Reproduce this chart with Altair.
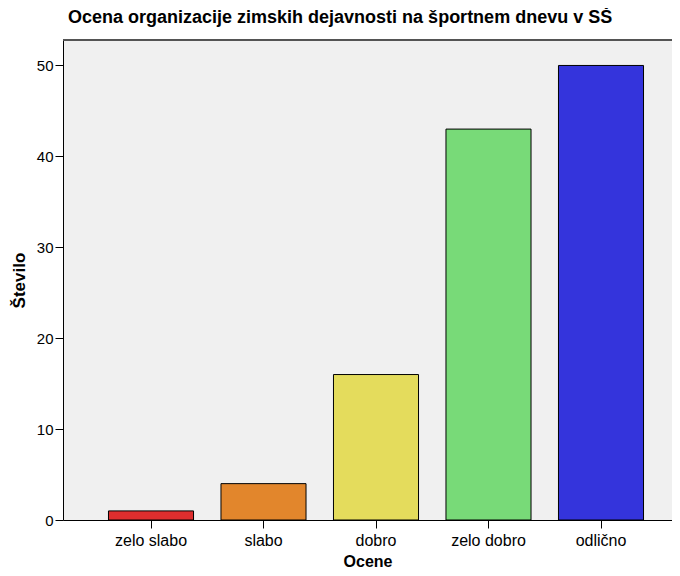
import altair as alt
import pandas as pd

categories = ["zelo slabo", "slabo", "dobro", "zelo dobro", "odlično"]
counts = [1, 4, 16, 43, 50]
colors = ["#de2e2e", "#e2862c", "#e4dc5c", "#78da78", "#3434dc"]

df = pd.DataFrame({"Ocene": categories, "Število": counts})

FONT = "Liberation Sans"
W, H = 609, 480

bars = alt.Chart(df).mark_bar(stroke="black", strokeWidth=1, opacity=1).encode(
    x=alt.X(
        "Ocene:N",
        sort=categories,
        scale=alt.Scale(paddingInner=0.244, paddingOuter=0.3287, align=0.615),
        axis=alt.Axis(
            title="Ocene",
            labelAngle=0,
            labelFontSize=16,
            labelFont=FONT,
            labelColor="black",
            labelPadding=4,
            tickSize=8,
            tickColor="black",
            domainColor="black",
            titleFont=FONT,
            titleFontSize=16,
            titleFontWeight="bold",
            titleColor="black",
            titlePadding=5,
        ),
    ),
    y=alt.Y(
        "Število:Q",
        scale=alt.Scale(domain=[0, 52.8], nice=False),
        axis=alt.Axis(
            title="Število",
            values=[0, 10, 20, 30, 40, 50],
            grid=False,
            labelFontSize=15,
            labelFont=FONT,
            labelColor="black",
            labelPadding=2,
            tickSize=8,
            tickColor="black",
            domainColor="black",
            titleFont=FONT,
            titleFontSize=17,
            titleFontWeight="bold",
            titleColor="black",
            titlePadding=8,
        ),
    ),
    fill=alt.Fill("Ocene:N", sort=categories,
                  scale=alt.Scale(domain=categories, range=colors), legend=None),
)

top_border = alt.Chart(df).mark_rule(color="#555555", strokeWidth=1.5).encode(
    y=alt.value(0), x=alt.value(0), x2=alt.value(W)
)

chart = (
    alt.layer(bars, top_border)
    .properties(
        width=W,
        height=H,
        autosize=alt.AutoSizeParams(type="none"),
        padding={"left": 55, "top": 32, "right": 0, "bottom": 51},
        title=alt.TitleParams(
            "Ocena organizacije zimskih dejavnosti na športnem dnevu v SŠ",
            anchor="start",
            frame="group",
            dx=5,
            offset=12,
            font=FONT,
            fontSize=18,
            fontWeight="bold",
            color="black",
        ),
    )
    .configure_view(fill="#f0f0f0", strokeWidth=0)
)

chart.save("out.html", embed_options={"renderer": "svg", "actions": False})
